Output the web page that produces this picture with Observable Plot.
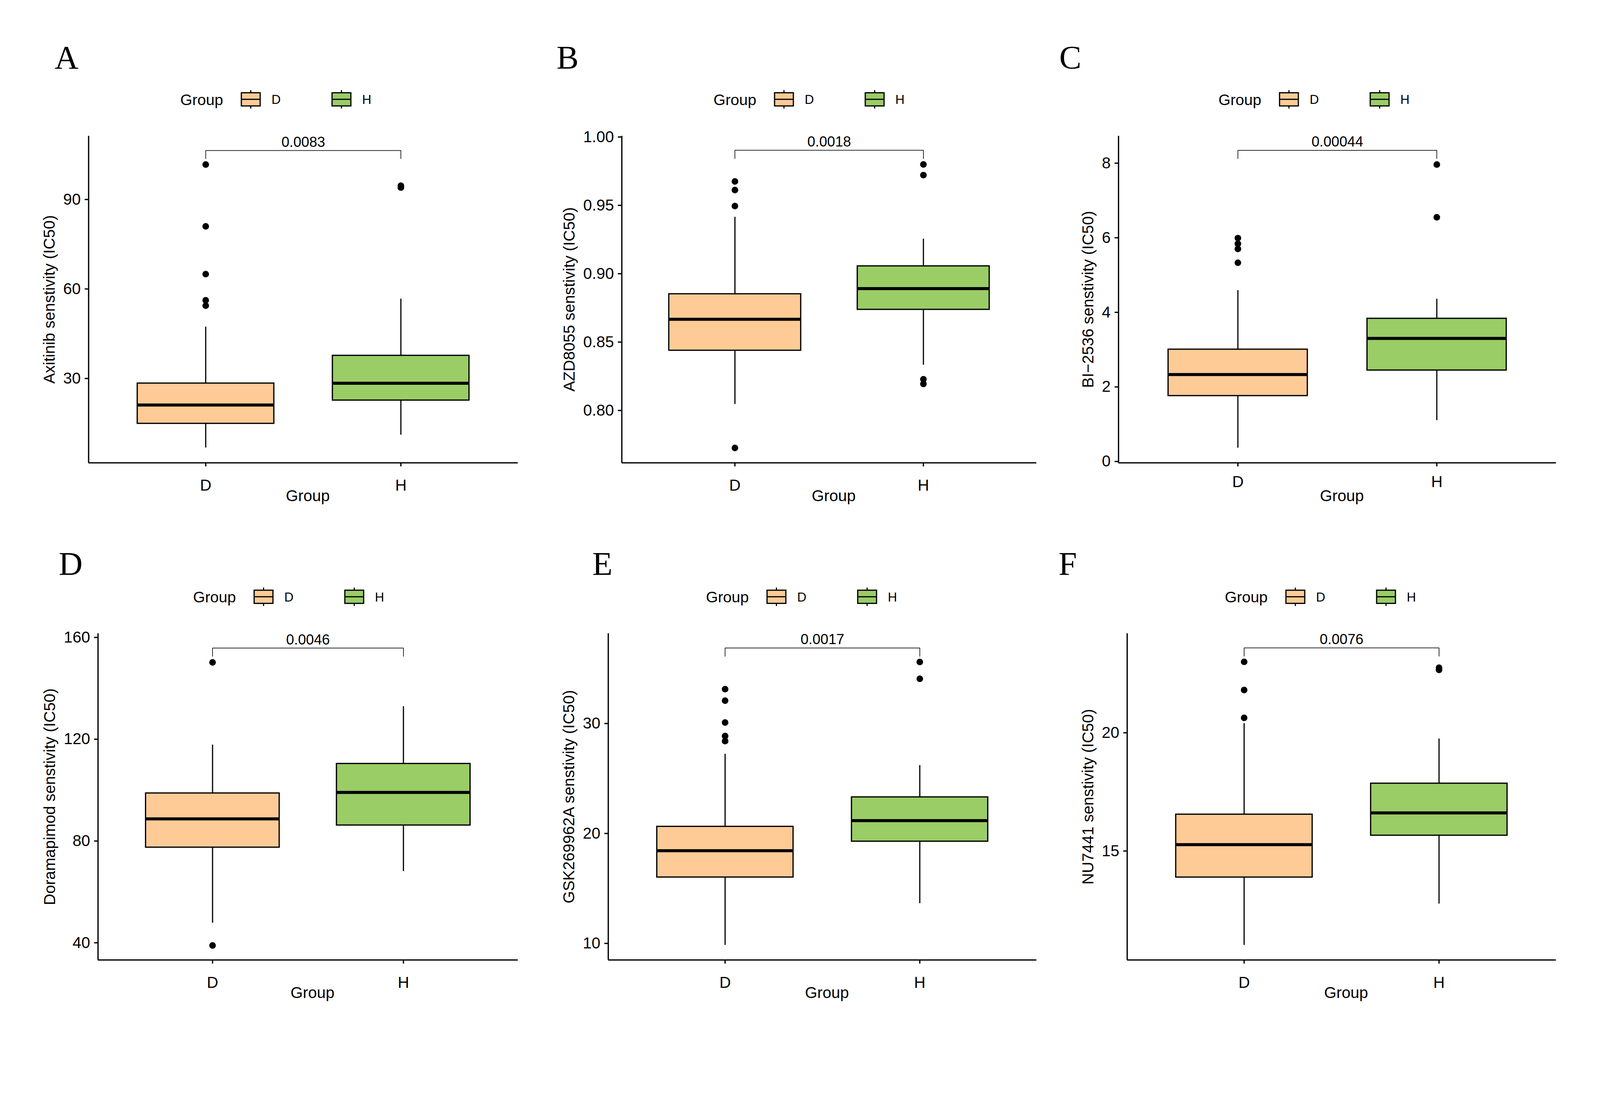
<!DOCTYPE html>
<html><head><meta charset="utf-8">
<script src="https://cdn.jsdelivr.net/npm/d3@7"></script>
<script src="https://cdn.jsdelivr.net/npm/@observablehq/plot@0.6"></script>
<style>
html,body{margin:0;padding:0;background:#fff;overflow:hidden;}
#fig{position:relative;width:4252px;height:2834px;background:#fff;overflow:hidden;transform-origin:0 0;}
.panel{position:absolute;}
.panel svg{max-width:none !important;}
#overlay{position:absolute;left:0;top:0;}
</style></head><body><div id="fig"></div>
<script>
// ---------- data ----------
const groups = ["D", "H"];
const groupColors = ["#FECB97", "#9ACD66"];
const panelLabels = ["A", "B", "C", "D", "E", "F"];
const drugs = ["Axitinib", "AZD8055", "BI\u22122536", "Doramapimod", "GSK269962A", "NU7441"];
const pValues = ["0.0083", "0.0018", "0.00044", "0.0046", "0.0017", "0.0076"];

// box statistics per group: [lower whisker, Q1, median, Q3, upper whisker]
const boxAxitinib    = [[6.8, 14.9, 21.1, 28.4, 47.3], [11.1, 22.7, 28.4, 37.7, 56.7]];
const boxAZD8055     = [[0.8046, 0.8439, 0.8667, 0.8852, 0.9415], [0.8333, 0.8738, 0.8891, 0.9056, 0.9255]];
const boxBI2536      = [[0.365, 1.762, 2.331, 3.007, 4.591], [1.103, 2.447, 3.301, 3.835, 4.359]];
const boxDoramapimod = [[47.8, 77.5, 88.7, 98.8, 117.8], [68.1, 86.2, 99.1, 110.4, 132.9]];
const boxGSK269962A  = [[9.85, 16.02, 18.43, 20.63, 27.23], [13.64, 19.28, 21.17, 23.31, 26.20]];
const boxNU7441      = [[11.02, 13.89, 15.27, 16.55, 20.40], [12.77, 15.66, 16.61, 17.86, 19.75]];

// outliers per group [D, H]
const outAxitinib    = [[101.7, 81.0, 65.0, 56.2, 54.4], [94.6, 94.0]];
const outAZD8055     = [[0.9675, 0.9612, 0.9495, 0.7726], [0.9799, 0.9721, 0.8228, 0.8194]];
const outBI2536      = [[5.99, 5.84, 5.70, 5.33], [7.963, 6.548]];
const outDoramapimod = [[150.2, 38.95], []];
const outGSK269962A  = [[33.13, 32.08, 30.09, 28.86, 28.40], [35.60, 34.07]];
const outNU7441      = [[23.00, 21.81, 20.63], [22.75, 22.66]];

// y axis domains and ticks
const yDomains = [[1.73, 111.27], [0.7617, 1.0007], [-0.036, 8.728], [33.23, 161.56], [8.49, 38.19], [10.39, 24.20]];
const yTicks = [[30, 60, 90], [0.80, 0.85, 0.90, 0.95, 1.00], [0, 2, 4, 6, 8], [40, 80, 120, 160], [10, 20, 30], [15, 20]];
// comparison bracket: [bar level, tip end]
const brackets = [[106.4, 103.7], [0.9903, 0.9842], [8.345, 8.123], [155.83, 152.58], [36.87, 36.11], [23.59, 23.24]];

const boxes = [boxAxitinib, boxAZD8055, boxBI2536, boxDoramapimod, boxGSK269962A, boxNU7441];
const outliers = [outAxitinib, outAZD8055, outBI2536, outDoramapimod, outGSK269962A, outNU7441];

// ---------- layout (pixel placement of each panel) ----------
const layout = [
  {left: 235,   right: 1376,   top: 361,    bottom: 1229.5, letterX: 145,  letterY: 183,    legendX: 479,  legendY: 264,  xpad: 34},
  {left: 1652,  right: 2754,   top: 361,    bottom: 1229.5, letterX: 1479, letterY: 183,    legendX: 1896, legendY: 264,  xpad: 34},
  {left: 2971.5,right: 4134.5, top: 361,    bottom: 1229.5, letterX: 2815, letterY: 183,    legendX: 3238, legendY: 264,  xpad: 25},
  {left: 260,   right: 1376,   top: 1683.4, bottom: 2551.2, letterX: 156,  letterY: 1527.6, legendX: 513,  legendY: 1586, xpad: 34},
  {left: 1615.7,right: 2754,   top: 1683.4, bottom: 2551.2, letterX: 1574, letterY: 1527.6, legendX: 1876, legendY: 1586, xpad: 34},
  {left: 2995,  right: 4134.5, top: 1683.4, bottom: 2551.2, letterX: 2813, letterY: 1527.6, legendX: 3255, legendY: 1586, xpad: 34}
];
const FONT = "'Liberation Sans', Arial, sans-serif";
const FS = 42;
const LW = 3.4;
const boxWidth = 0.7;
const TICK = 10, YPAD = 11;

const fig = document.getElementById("fig");
const vw = window.innerWidth || 4252;
if (vw < 4252) fig.style.transform = `scale(${vw / 4252})`;

const canvas = document.createElement("canvas");
const ctx = canvas.getContext("2d");
ctx.font = `${FS}px ${FONT}`;

function drawPanel(i) {
  const L = layout[i];
  const mL = 200, mR = 12, mT = 10, mB = 140;
  const W = L.right - L.left, H = L.bottom - L.top;
  const stats = groups.map((g, j) => {
    const b = boxes[i][j];
    return {g, xi: j + 1, lo: b[0], q1: b[1], med: b[2], q3: b[3], hi: b[4]};
  });
  const outs = groups.flatMap((g, j) => outliers[i][j].map(v => ({g, xi: j + 1, v})));
  const [ymin, ymax] = yDomains[i];
  const [bTop, bTip] = brackets[i];
  const bracketPts = [{x: 1, y: bTip}, {x: 1, y: bTop}, {x: 2, y: bTop}, {x: 2, y: bTip}];
  const fmt = i === 1 ? d3.format(".2f") : d3.format("d");
  const maxW = d3.max(yTicks[i], t => ctx.measureText(fmt(t)).width);
  const titleOff = TICK + YPAD + maxW + 36;
  const yTitle = `${drugs[i]} senstivity (IC50)`;

  const plot = Plot.plot({
    width: W + mL + mR, height: H + mT + mB,
    marginLeft: mL, marginRight: mR, marginTop: mT, marginBottom: mB,
    x: {domain: [0.4, 2.6]},
    y: {domain: [ymin, ymax]},
    color: {domain: groups, range: groupColors},
    style: {fontSize: FS + "px", fontFamily: FONT, color: "black", background: "transparent", overflow: "visible", maxWidth: "none"},
    marks: [
      Plot.ruleX(stats, {x: "xi", y1: "q3", y2: "hi", stroke: "black", strokeWidth: 3.1}),
      Plot.ruleX(stats, {x: "xi", y1: "lo", y2: "q1", stroke: "black", strokeWidth: 3.1}),
      Plot.rect(stats, {x1: d => d.xi - boxWidth / 2, x2: d => d.xi + boxWidth / 2, y1: "q1", y2: "q3", fill: "g", stroke: "black", strokeWidth: 3.3}),
      Plot.ruleY(stats, {x1: d => d.xi - boxWidth / 2, x2: d => d.xi + boxWidth / 2, y: "med", stroke: "black", strokeWidth: 8}),
      Plot.dot(outs, {x: "xi", y: "v", r: 8.8, fill: "black", stroke: null}),
      Plot.line(bracketPts, {x: "x", y: "y", stroke: "#111", strokeWidth: 1.8}),
      Plot.text([pValues[i]], {x: d3.mean([1, 2]), y: bTop, dy: -22, lineAnchor: "middle", fontSize: 38, fill: "black"}),
      Plot.ruleX([0.4], {y1: ymin, y2: ymax, stroke: "black", strokeWidth: LW}),
      Plot.ruleY([ymin], {x1: 0.4, x2: 2.6, stroke: "black", strokeWidth: LW}),
      Plot.axisX({ticks: [1, 2], tickFormat: d => groups[d - 1], tickSize: TICK, tickPadding: L.xpad, strokeWidth: LW, label: null, fontSize: FS}),
      Plot.axisY({ticks: yTicks[i], tickFormat: fmt, tickSize: TICK, tickPadding: YPAD, strokeWidth: LW, label: null, fontSize: FS}),
      Plot.text([yTitle], {frameAnchor: "left", rotate: -90, dx: -titleOff, textAnchor: "middle", lineAnchor: "middle", fontSize: FS, fill: "black"}),
      Plot.text(["Group"], {frameAnchor: "bottom", dy: 88, dx: 12, textAnchor: "middle", lineAnchor: "middle", fontSize: FS, fill: "black"})
    ]
  });
  const div = document.createElement("div");
  div.className = "panel";
  div.style.left = (L.left - mL) + "px";
  div.style.top = (L.top - mT) + "px";
  div.appendChild(plot);
  fig.appendChild(div);
}

for (let i = 0; i < 6; i++) drawPanel(i);

// overlay: panel letters and legends
const overlay = d3.select(fig).append("svg").attr("id", "overlay")
  .attr("width", 4252).attr("height", 2834);
layout.forEach((L, i) => {
  overlay.append("text").attr("x", L.letterX).attr("y", L.letterY)
    .attr("font-family", "'Liberation Serif', 'Times New Roman', serif")
    .attr("font-size", 88).attr("fill", "black").text(panelLabels[i]);
  const lg = overlay.append("g").attr("transform", `translate(${L.legendX},${L.legendY})`)
    .attr("font-family", FONT).attr("fill", "black");
  lg.append("text").attr("x", 0).attr("y", 0).attr("dy", "0.36em").attr("font-size", 41).text("Group");
  groups.forEach((g, j) => {
    const kx = 162.4 + j * 241;
    lg.append("line").attr("x1", kx + 25).attr("x2", kx + 25).attr("y1", -24.5).attr("y2", 24.5)
      .attr("stroke", "black").attr("stroke-width", 3);
    lg.append("rect").attr("x", kx).attr("y", -17.5).attr("width", 50).attr("height", 35)
      .attr("fill", groupColors[j]).attr("stroke", "black").attr("stroke-width", 3.2);
    lg.append("line").attr("x1", kx).attr("x2", kx + 50).attr("y1", 0).attr("y2", 0)
      .attr("stroke", "black").attr("stroke-width", 3.2);
    lg.append("text").attr("x", kx + 80).attr("y", 0).attr("dy", "0.36em")
      .attr("font-size", 34).text(g);
  });
});
</script>
</body></html>
